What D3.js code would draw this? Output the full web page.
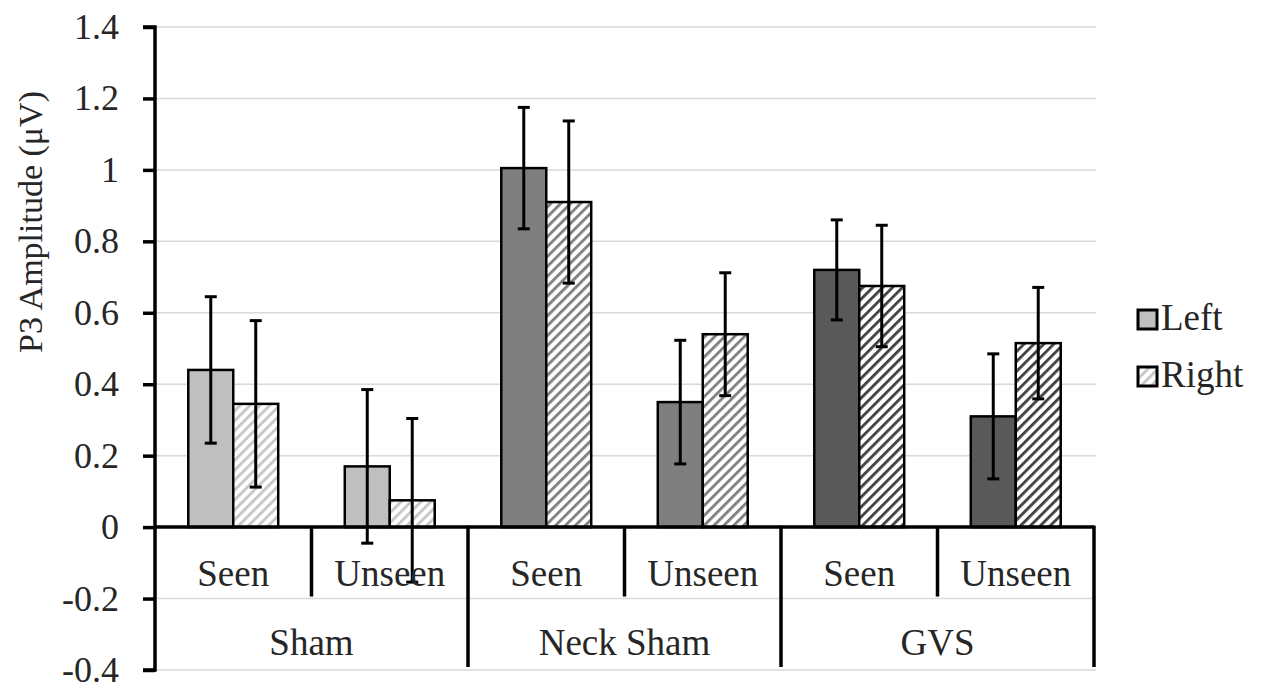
<!DOCTYPE html>
<html lang="en">
<head>
    <meta charset="UTF-8">
    <title>P3 Amplitude</title>
    <script src="https://d3js.org/d3.v7.min.js"></script>
    <style>
        body { margin: 0; background: #fff; }
        text { font-family: "Liberation Serif", "Times New Roman", serif; fill: #262626; }
    </style>
</head>
<body>
<script>
    // chart data
    var groups = ["Sham", "Neck Sham", "GVS"];
    var conditions = ["Seen", "Unseen"];
    var series = ["Left", "Right"];
    var leftValues = [0.44, 0.17, 1.005, 0.35, 0.72, 0.31];
    var rightValues = [0.345, 0.075, 0.91, 0.54, 0.675, 0.515];
    var leftErrors = [0.205, 0.215, 0.17, 0.173, 0.14, 0.175];
    var rightErrors = [0.233, 0.229, 0.227, 0.172, 0.17, 0.156];
    var yTicks = [-0.4, -0.2, 0, 0.2, 0.4, 0.6, 0.8, 1, 1.2, 1.4];
    var groupFills = ["#bfbfbf", "#7f7f7f", "#595959"];
    var hatchColors = ["#c6c6c6", "#7f7f7f", "#3f3f3f"];

    var w = 1272;
    var h = 687;
    var plotLeft = 155, plotRight = 1094, plotTop = 27, plotBottom = 670;
    var fontSize = "37px";

    var svg = d3.select("body")
        .append("svg")
        .attr("width", w)
        .attr("height", h);

    // hatch patterns
    var defs = svg.append("defs");
    hatchColors.forEach(function(c, i) {
        var p = defs.append("pattern")
            .attr("id", "hatch" + i)
            .attr("patternUnits", "userSpaceOnUse")
            .attr("width", 7)
            .attr("height", 7)
            .attr("patternTransform", "rotate(45)");
        p.append("rect").attr("width", 7).attr("height", 7).attr("fill", "#fff");
        p.append("rect").attr("width", 2.8).attr("height", 7).attr("fill", c);
    });

    var y = d3.scaleLinear()
        .domain([-0.4, 1.4])
        .range([plotBottom, plotTop]);

    var x0 = d3.scaleBand().domain(groups).range([plotLeft, plotRight]);
    var x1 = d3.scaleBand().domain(conditions).range([0, x0.bandwidth()]);
    var x2 = d3.scaleBand().domain(series).range([0, x1.bandwidth()])
        .paddingInner(0).paddingOuter(0.74);

    // gridlines
    svg.selectAll(".grid")
        .data(yTicks)
        .enter()
        .append("line")
        .attr("x1", plotLeft)
        .attr("x2", plotRight + 2)
        .attr("y1", function(d) { return y(d); })
        .attr("y2", function(d) { return y(d); })
        .attr("stroke", "#d9d9d9")
        .attr("stroke-width", 1.5);

    // build rows
    var rows = [];
    groups.forEach(function(g, gi) {
        conditions.forEach(function(c, ci) {
            var k = gi * conditions.length + ci;
            rows.push({ group: g, gi: gi, cond: c, series: "Left", value: leftValues[k], err: leftErrors[k] });
            rows.push({ group: g, gi: gi, cond: c, series: "Right", value: rightValues[k], err: rightErrors[k] });
        });
    });

    function barX(d) {
        return x0(d.group) + x1(d.cond) + x2(d.series);
    }

    svg.selectAll(".bar")
        .data(rows)
        .enter()
        .append("rect")
        .attr("x", barX)
        .attr("y", function(d) { return y(d.value); })
        .attr("width", x2.bandwidth())
        .attr("height", function(d) { return y(0) - y(d.value); })
        .attr("fill", function(d) {
            return d.series == "Left" ? groupFills[d.gi] : "url(#hatch" + d.gi + ")";
        })
        .attr("stroke", "#000")
        .attr("stroke-width", 2.5);

    // error bars
    var eb = svg.selectAll(".err")
        .data(rows)
        .enter()
        .append("g");
    eb.append("line")
        .attr("x1", function(d) { return barX(d) + x2.bandwidth() / 2; })
        .attr("x2", function(d) { return barX(d) + x2.bandwidth() / 2; })
        .attr("y1", function(d) { return y(d.value + d.err); })
        .attr("y2", function(d) { return y(d.value - d.err); })
        .attr("stroke", "#000")
        .attr("stroke-width", 3);
    [1, -1].forEach(function(s) {
        eb.append("line")
            .attr("x1", function(d) { return barX(d) + x2.bandwidth() / 2 - 6; })
            .attr("x2", function(d) { return barX(d) + x2.bandwidth() / 2 + 6; })
            .attr("y1", function(d) { return y(d.value + s * d.err); })
            .attr("y2", function(d) { return y(d.value + s * d.err); })
            .attr("stroke", "#000")
            .attr("stroke-width", 3);
    });

    // y axis (plain hyphen for negatives, like the original)
    var yAxis = d3.axisLeft(y).tickValues(yTicks).tickSize(12).tickPadding(24)
        .tickFormat(function(d) { return String(d); });
    var ya = svg.append("g")
        .attr("transform", "translate(" + plotLeft + ",0)")
        .call(yAxis);
    ya.select(".domain").attr("stroke", "#000").attr("stroke-width", 3.5)
        .attr("d", "M-12," + plotBottom + "H0V" + plotTop + "H-12");
    ya.selectAll(".tick line").attr("stroke", "#000").attr("stroke-width", 3.5);
    ya.selectAll(".tick text")
        .style("font-size", "36px")
        .style("font-family", "Liberation Serif, serif")
        .attr("fill", "#262626");

    // category axis
    svg.append("line")
        .attr("x1", plotLeft).attr("x2", plotRight)
        .attr("y1", y(0)).attr("y2", y(0))
        .attr("stroke", "#000").attr("stroke-width", 3.5);

    var subCats = [];
    groups.forEach(function(g) {
        conditions.forEach(function(c) { subCats.push({ group: g, cond: c }); });
    });

    // condition dividers (inner)
    svg.selectAll(".cdiv")
        .data(subCats.filter(function(d) { return d.cond != conditions[0]; }))
        .enter()
        .append("line")
        .attr("x1", function(d) { return x0(d.group) + x1(d.cond); })
        .attr("x2", function(d) { return x0(d.group) + x1(d.cond); })
        .attr("y1", y(0))
        .attr("y2", y(-0.2) - 2)
        .attr("stroke", "#000").attr("stroke-width", 3.5);

    // group dividers
    var gEdges = groups.slice(1).map(function(g) { return x0(g); }).concat([plotRight]);
    svg.selectAll(".gdiv")
        .data(gEdges)
        .enter()
        .append("line")
        .attr("x1", function(d) { return d; })
        .attr("x2", function(d) { return d; })
        .attr("y1", y(0) - 1.5)
        .attr("y2", y(-0.4) - 3)
        .attr("stroke", "#000").attr("stroke-width", 3.5);

    svg.selectAll(".clabel")
        .data(subCats)
        .enter()
        .append("text")
        .attr("x", function(d) { return x0(d.group) + x1(d.cond) + x1.bandwidth() / 2; })
        .attr("y", 586)
        .attr("text-anchor", "middle")
        .style("font-size", fontSize)
        .text(function(d) { return d.cond; });

    svg.selectAll(".glabel")
        .data(groups)
        .enter()
        .append("text")
        .attr("x", function(d) { return x0(d) + x0.bandwidth() / 2; })
        .attr("y", 655)
        .attr("text-anchor", "middle")
        .style("font-size", fontSize)
        .text(function(d) { return d; });

    // y title
    svg.append("text")
        .attr("transform", "translate(42,222) rotate(-90)")
        .attr("text-anchor", "middle")
        .style("font-size", "34px")
        .text("P3 Amplitude (\u03bcV)");

    // legend
    var lg = svg.selectAll(".legend")
        .data(series)
        .enter()
        .append("g")
        .attr("transform", function(d, i) { return "translate(1138," + (310 + i * 57) + ")"; });
    lg.append("rect")
        .attr("width", 19)
        .attr("height", 19)
        .attr("fill", function(d, i) { return i == 0 ? groupFills[0] : "url(#hatch0)"; })
        .attr("stroke", "#000")
        .attr("stroke-width", 3);
    lg.append("text")
        .attr("x", 23)
        .attr("y", 20)
        .style("font-size", fontSize)
        .text(function(d) { return d; });
</script>
</body>
</html>
